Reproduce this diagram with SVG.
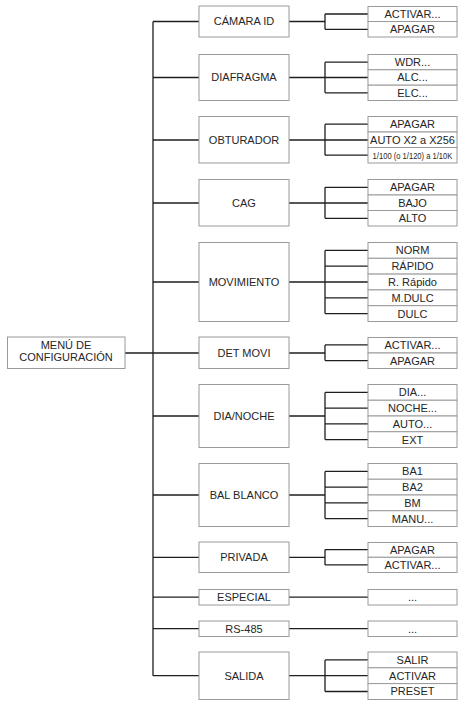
<svg xmlns="http://www.w3.org/2000/svg" width="462" height="701" viewBox="0 0 462 701">
<style>
rect{fill:#fff;stroke:#9a9a9a;stroke-width:1}
text{font-family:"Liberation Sans",Arial,sans-serif;font-size:11px;fill:#262626;text-anchor:middle}
#connectors line{stroke:#1e1e1e;stroke-width:1.3;fill:none}
</style>
<rect x="0" y="0" width="462" height="701" style="stroke:none"/>
<g id="connectors">
<line x1="153" y1="21.5" x2="153" y2="675.7"/>
<line x1="125" y1="353" x2="199" y2="353"/>
<line x1="153" y1="21.5" x2="199" y2="21.5"/>
<line x1="289" y1="21.5" x2="325" y2="21.5"/>
<line x1="325" y1="14" x2="325" y2="29.3"/>
<line x1="325" y1="14" x2="368" y2="14"/>
<line x1="325" y1="29.3" x2="368" y2="29.3"/>
<line x1="153" y1="77.5" x2="199" y2="77.5"/>
<line x1="289" y1="77.5" x2="368" y2="77.5"/>
<line x1="325" y1="62.2" x2="325" y2="92.8"/>
<line x1="325" y1="62.2" x2="368" y2="62.2"/>
<line x1="325" y1="92.8" x2="368" y2="92.8"/>
<line x1="153" y1="140" x2="199" y2="140"/>
<line x1="289" y1="140" x2="368" y2="140"/>
<line x1="325" y1="124.2" x2="325" y2="155.2"/>
<line x1="325" y1="124.2" x2="368" y2="124.2"/>
<line x1="325" y1="155.2" x2="368" y2="155.2"/>
<line x1="153" y1="203" x2="199" y2="203"/>
<line x1="289" y1="203" x2="368" y2="203"/>
<line x1="325" y1="187.3" x2="325" y2="218.3"/>
<line x1="325" y1="187.3" x2="368" y2="187.3"/>
<line x1="325" y1="218.3" x2="368" y2="218.3"/>
<line x1="153" y1="282" x2="199" y2="282"/>
<line x1="289" y1="282" x2="368" y2="282"/>
<line x1="325" y1="250.4" x2="325" y2="313.6"/>
<line x1="325" y1="250.4" x2="368" y2="250.4"/>
<line x1="325" y1="266.2" x2="368" y2="266.2"/>
<line x1="325" y1="297.8" x2="368" y2="297.8"/>
<line x1="325" y1="313.6" x2="368" y2="313.6"/>
<line x1="289" y1="353" x2="325" y2="353"/>
<line x1="325" y1="344.9" x2="325" y2="360.6"/>
<line x1="325" y1="344.9" x2="368" y2="344.9"/>
<line x1="325" y1="360.6" x2="368" y2="360.6"/>
<line x1="153" y1="416" x2="199" y2="416"/>
<line x1="289" y1="416" x2="325" y2="416"/>
<line x1="325" y1="392.4" x2="325" y2="439.6"/>
<line x1="325" y1="392.4" x2="368" y2="392.4"/>
<line x1="325" y1="408.1" x2="368" y2="408.1"/>
<line x1="325" y1="423.9" x2="368" y2="423.9"/>
<line x1="325" y1="439.6" x2="368" y2="439.6"/>
<line x1="153" y1="495" x2="199" y2="495"/>
<line x1="289" y1="495" x2="325" y2="495"/>
<line x1="325" y1="471.4" x2="325" y2="518.6"/>
<line x1="325" y1="471.4" x2="368" y2="471.4"/>
<line x1="325" y1="487.1" x2="368" y2="487.1"/>
<line x1="325" y1="502.9" x2="368" y2="502.9"/>
<line x1="325" y1="518.6" x2="368" y2="518.6"/>
<line x1="153" y1="557.3" x2="199" y2="557.3"/>
<line x1="289" y1="557.3" x2="325" y2="557.3"/>
<line x1="325" y1="549.6" x2="325" y2="564.9"/>
<line x1="325" y1="549.6" x2="368" y2="549.6"/>
<line x1="325" y1="564.9" x2="368" y2="564.9"/>
<line x1="153" y1="597.2" x2="199" y2="597.2"/>
<line x1="289" y1="597.2" x2="368" y2="597.2"/>
<line x1="153" y1="628.7" x2="199" y2="628.7"/>
<line x1="289" y1="628.7" x2="368" y2="628.7"/>
<line x1="153" y1="675.7" x2="199" y2="675.7"/>
<line x1="289" y1="675.7" x2="368" y2="675.7"/>
<line x1="325" y1="659.9" x2="325" y2="691.5"/>
<line x1="325" y1="659.9" x2="368" y2="659.9"/>
<line x1="325" y1="691.5" x2="368" y2="691.5"/>
</g>

<g id="menu">
<rect x="7.5" y="337" width="117.5" height="31.5"/>
<text x="66" y="349">MENÚ DE</text>
<text x="66" y="361">CONFIGURACIÓN</text>
</g>

<g id="camara-id">
<rect x="199" y="6" width="90" height="31"/>
<text x="244" y="25.4">CÁMARA ID</text>
</g>
<g id="camara-id-opts">
<rect x="368" y="6.5" width="89" height="15"/><text x="412.5" y="17.9">ACTIVAR...</text>
<rect x="368" y="21.5" width="89" height="15.5"/><text x="412.5" y="33.2">APAGAR</text>
</g>

<g id="diafragma">
<rect x="199" y="54.5" width="90" height="46"/>
<text x="244" y="81.4">DIAFRAGMA</text>
</g>
<g id="diafragma-opts">
<rect x="368" y="54.5" width="89" height="15.3"/><text x="412.5" y="66.1">WDR...</text>
<rect x="368" y="69.8" width="89" height="15.4"/><text x="412.5" y="81.4">ALC...</text>
<rect x="368" y="85.2" width="89" height="15.3"/><text x="412.5" y="96.7">ELC...</text>
</g>

<g id="obturador">
<rect x="199" y="116.5" width="90" height="46.5"/>
<text x="244" y="143.9">OBTURADOR</text>
</g>
<g id="obturador-opts">
<rect x="368" y="116.5" width="89" height="15.5"/><text x="412.5" y="128.1">APAGAR</text>
<rect x="368" y="132" width="89" height="15.5"/><text x="412.5" y="143.6">AUTO X2 a X256</text>
<rect x="368" y="147.5" width="89" height="15.5"/><text transform="translate(412.5,158.6) scale(0.8,1)" x="0" y="0" style="font-size:9.5px">1/100 (o 1/120) a 1/10K</text>
</g>

<g id="cag">
<rect x="199" y="179.5" width="90" height="46.5"/>
<text x="244" y="206.9">CAG</text>
</g>
<g id="cag-opts">
<rect x="368" y="179.5" width="89" height="15.5"/><text x="412.5" y="191.2">APAGAR</text>
<rect x="368" y="195" width="89" height="15.5"/><text x="412.5" y="206.7">BAJO</text>
<rect x="368" y="210.5" width="89" height="15.5"/><text x="412.5" y="222.2">ALTO</text>
</g>

<g id="movimiento">
<rect x="199" y="242.5" width="90" height="79"/>
<text x="244" y="285.9">MOVIMIENTO</text>
</g>
<g id="movimiento-opts">
<rect x="368" y="242.5" width="89" height="15.8"/><text x="412.5" y="254.3">NORM</text>
<rect x="368" y="258.3" width="89" height="15.8"/><text x="412.5" y="270.1">RÁPIDO</text>
<rect x="368" y="274.1" width="89" height="15.8"/><text x="412.5" y="285.9">R. Rápido</text>
<rect x="368" y="289.9" width="89" height="15.8"/><text x="412.5" y="301.7">M.DULC</text>
<rect x="368" y="305.7" width="89" height="15.8"/><text x="412.5" y="317.5">DULC</text>
</g>

<g id="det-movi">
<rect x="199" y="337" width="90" height="31.5"/>
<text x="244" y="356.9">DET MOVI</text>
</g>
<g id="det-movi-opts">
<rect x="368" y="337.5" width="89" height="15.5"/><text x="412.5" y="348.8">ACTIVAR...</text>
<rect x="368" y="353" width="89" height="15.5"/><text x="412.5" y="364.5">APAGAR</text>
</g>

<g id="dia-noche">
<rect x="199" y="384.5" width="90" height="63"/>
<text x="244" y="419.9">DIA/NOCHE</text>
</g>
<g id="dia-noche-opts">
<rect x="368" y="384.5" width="89" height="15.75"/><text x="412.5" y="396.3">DIA...</text>
<rect x="368" y="400.25" width="89" height="15.75"/><text x="412.5" y="412">NOCHE...</text>
<rect x="368" y="416" width="89" height="15.75"/><text x="412.5" y="427.8">AUTO...</text>
<rect x="368" y="431.75" width="89" height="15.75"/><text x="412.5" y="443.5">EXT</text>
</g>

<g id="bal-blanco">
<rect x="199" y="463.5" width="90" height="63"/>
<text x="244" y="498.9">BAL BLANCO</text>
</g>
<g id="bal-blanco-opts">
<rect x="368" y="463.5" width="89" height="15.75"/><text x="412.5" y="475.3">BA1</text>
<rect x="368" y="479.25" width="89" height="15.75"/><text x="412.5" y="491">BA2</text>
<rect x="368" y="495" width="89" height="15.75"/><text x="412.5" y="506.8">BM</text>
<rect x="368" y="510.75" width="89" height="15.75"/><text x="412.5" y="522.5">MANU...</text>
</g>

<g id="privada">
<rect x="199" y="542" width="90" height="30.5"/>
<text x="244" y="561.2">PRIVADA</text>
</g>
<g id="privada-opts">
<rect x="368" y="542.5" width="89" height="14.8"/><text x="412.5" y="553.5">APAGAR</text>
<rect x="368" y="557.3" width="89" height="15.2"/><text x="412.5" y="568.8">ACTIVAR...</text>
</g>

<g id="especial">
<rect x="199" y="589.5" width="90" height="15.5"/>
<text x="244" y="601.1">ESPECIAL</text>
</g>
<g id="especial-opts">
<rect x="368" y="589.5" width="89" height="15.5"/><text x="412.5" y="601.1">...</text>
</g>

<g id="rs485">
<rect x="199" y="621" width="90" height="15.5"/>
<text x="244" y="632.6">RS-485</text>
</g>
<g id="rs485-opts">
<rect x="368" y="621" width="89" height="15.5"/><text x="412.5" y="632.6">...</text>
</g>

<g id="salida">
<rect x="199" y="652" width="90" height="47.5"/>
<text x="244" y="679.6">SALIDA</text>
</g>
<g id="salida-opts">
<rect x="368" y="652" width="89" height="15.8"/><text x="412.5" y="663.8">SALIR</text>
<rect x="368" y="667.8" width="89" height="15.8"/><text x="412.5" y="679.6">ACTIVAR</text>
<rect x="368" y="683.6" width="89" height="15.9"/><text x="412.5" y="695.4">PRESET</text>
</g>
</svg>
